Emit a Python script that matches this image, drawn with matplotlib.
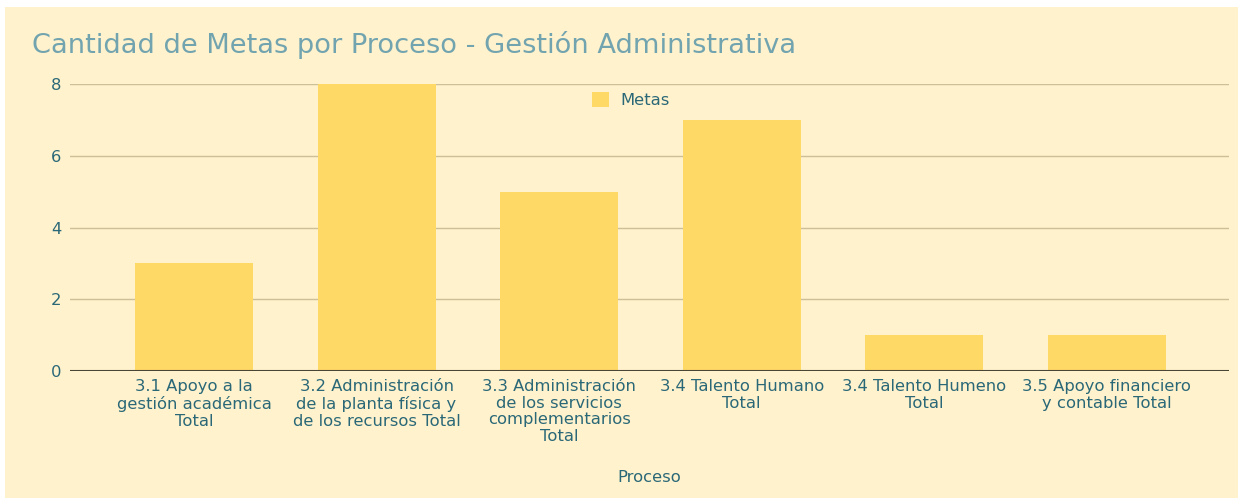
import matplotlib
matplotlib.use("Agg")
import matplotlib.pyplot as plt
from matplotlib.patches import Rectangle

# datos del gráfico
procesos = [
    "3.1 Apoyo a la\ngestión académica\nTotal",
    "3.2 Administración\nde la planta física y\nde los recursos Total",
    "3.3 Administración\nde los servicios\ncomplementarios\nTotal",
    "3.4 Talento Humano\nTotal",
    "3.4 Talento Humeno\nTotal",
    "3.5 Apoyo financiero\ny contable Total",
]
metas = [3, 8, 5, 7, 1, 1]
y_ticks = [0, 2, 4, 6, 8]

bg = "#FFF2CC"
bar_color = "#FFD966"
text_color = "#2A6878"
title_color = "#72A4B0"

W, H = 1241, 501
fig = plt.figure(figsize=(W / 100, H / 100), dpi=100, facecolor="white")
fig.patches.append(Rectangle((5 / W, 3 / H), 1233 / W, 491 / H,
                             transform=fig.transFigure, facecolor=bg,
                             edgecolor="none", zorder=-10))

ax = fig.add_axes([70 / W, (H - 371) / H, (1229 - 70) / W, (371 - 84) / H])
ax.set_facecolor("none")
ax.set_zorder(5)

x = list(range(len(procesos)))
ax.bar(x, metas, width=0.646, color=bar_color, label="Metas", zorder=3)

ax.set_xlim(-0.679, 5.669)
ax.set_ylim(0, 8)
ax.set_yticks(y_ticks)
ax.set_yticklabels([str(v) for v in y_ticks])
ax.set_xticks(x)
ax.set_xticklabels(procesos, linespacing=1.13)

ax.grid(axis="y", color="#CDBF98", linewidth=1, zorder=1)
ax.axhline(0, color="#4A4636", linewidth=1.5, zorder=4)
for s in ax.spines.values():
    s.set_visible(False)
ax.tick_params(axis="both", length=0, colors=text_color, labelsize=11.8)
ax.tick_params(axis="y", pad=6)
ax.tick_params(axis="x", pad=6)

ax.set_xlabel("Proceso", color=text_color, fontsize=11.8)
ax.xaxis.set_label_coords(0.5, -0.345)

fig.text(32 / W, 1 - 45 / H, "Cantidad de Metas por Proceso - Gestión Administrativa",
         color=title_color, fontsize=19.6, va="center", ha="left")

ax.legend(loc="center", bbox_to_anchor=((631 - 70) / (1229 - 70), 1 - 16 / 287),
          frameon=False, fontsize=11.8, labelcolor=text_color,
          handlelength=1.0, handleheight=1.0, handletextpad=0.7)

fig.savefig("out.png", dpi=100, facecolor="white")
